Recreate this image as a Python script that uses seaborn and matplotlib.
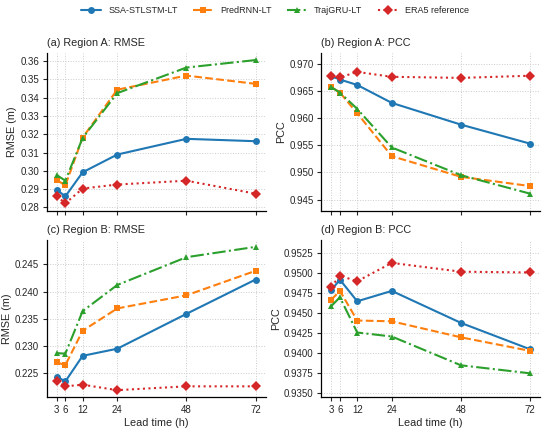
import numpy as np
import pandas as pd
import seaborn as sns
import matplotlib
matplotlib.use('Agg')
import matplotlib.pyplot as plt

# %% data
lead = [3, 6, 12, 24, 48, 72]
models = ['SSA-STLSTM-LT', 'PredRNN-LT', 'TrajGRU-LT', 'ERA5 reference']

rmse_a_ssa = [0.2897, 0.2860, 0.2992, 0.3089, 0.3175, 0.3162]
rmse_a_pred = [0.2950, 0.2920, 0.3182, 0.3444, 0.3521, 0.3476]
rmse_a_traj = [0.2977, 0.2946, 0.3180, 0.3425, 0.3565, 0.3606]
rmse_a_era5 = [0.2862, 0.2822, 0.2903, 0.2925, 0.2946, 0.2875]

pcc_a_ssa = [0.9677, 0.9671, 0.9661, 0.9628, 0.9588, 0.9553]
pcc_a_pred = [0.9657, 0.9647, 0.9609, 0.9530, 0.9492, 0.9475]
pcc_a_traj = [0.9657, 0.9647, 0.9617, 0.9546, 0.9495, 0.9461]
pcc_a_era5 = [0.9677, 0.9675, 0.9685, 0.9676, 0.9674, 0.9678]

rmse_b_ssa = [0.2244, 0.2235, 0.2282, 0.2295, 0.2359, 0.2422]
rmse_b_pred = [0.2270, 0.2265, 0.2328, 0.2369, 0.2393, 0.2438]
rmse_b_traj = [0.2287, 0.2286, 0.2364, 0.2412, 0.2463, 0.2482]
rmse_b_era5 = [0.2236, 0.2226, 0.2229, 0.2219, 0.2226, 0.2226]

pcc_b_ssa = [0.9479, 0.9492, 0.9465, 0.9478, 0.9438, 0.9405]
pcc_b_pred = [0.9467, 0.9478, 0.9441, 0.9440, 0.9420, 0.9403]
pcc_b_traj = [0.9459, 0.9470, 0.9426, 0.9421, 0.9385, 0.9375]
pcc_b_era5 = [0.9483, 0.9497, 0.9490, 0.9513, 0.9502, 0.9501]

# y tick values per panel
yt_a = [0.28, 0.29, 0.30, 0.31, 0.32, 0.33, 0.34, 0.35, 0.36]
yt_b = [0.945, 0.950, 0.955, 0.960, 0.965, 0.970]
yt_c = [0.225, 0.230, 0.235, 0.240, 0.245]
yt_d = [0.9350, 0.9375, 0.9400, 0.9425, 0.9450, 0.9475, 0.9500, 0.9525]

panels = [
    ('(a) Region A: RMSE', 'RMSE (m)', [rmse_a_ssa, rmse_a_pred, rmse_a_traj, rmse_a_era5], yt_a, '{:.2f}'),
    ('(b) Region A: PCC', 'PCC', [pcc_a_ssa, pcc_a_pred, pcc_a_traj, pcc_a_era5], yt_b, '{:.3f}'),
    ('(c) Region B: RMSE', 'RMSE (m)', [rmse_b_ssa, rmse_b_pred, rmse_b_traj, rmse_b_era5], yt_c, '{:.3f}'),
    ('(d) Region B: PCC', 'PCC', [pcc_b_ssa, pcc_b_pred, pcc_b_traj, pcc_b_era5], yt_d, '{:.4f}'),
]

colors = ['#1f77b4', '#ff7f0e', '#2ca02c', '#d62728']
markers = ['o', 's', '^', 'D']
styles = ['-', '--', '-.', ':']

# %% plotting
sns.set_style('ticks')
plt.rcParams['font.family'] = ['Liberation Sans', 'DejaVu Sans']

fig, axes = plt.subplots(2, 2, figsize=(5.5, 4.3), dpi=100, sharex=True)
fig.subplots_adjust(left=0.085, right=0.982, top=0.877, bottom=0.076,
                    wspace=0.255, hspace=0.185)

for ax, (title, ylab, series, yt, fmt) in zip(axes.flat, panels):
    for name, vals, c, m, ls in zip(models, series, colors, markers, styles):
        df = pd.DataFrame({'lead': lead, 'val': vals})
        sns.lineplot(data=df, x='lead', y='val', ax=ax, color=c, marker=m,
                     linestyle=ls, linewidth=1.5,
                     markersize=5.5 if m == 'D' else 5,
                     markeredgewidth=0, label=name, legend=False)
    ax.set_title(title, loc='left', fontsize=7.8, pad=5)
    ax.set_ylabel(ylab, fontsize=7.8, labelpad=2)
    ax.set_xlabel('')
    ax.set_xticks(lead)
    ax.set_yticks(yt, labels=[fmt.format(v) for v in yt])
    ax.grid(True, linestyle=':', color='#cccccc', linewidth=0.7)
    ax.tick_params(labelsize=7, length=3, width=0.8, pad=2.5)
    for s in ['left', 'bottom']:
        ax.spines[s].set_color('black')
        ax.spines[s].set_linewidth(0.9)
    sns.despine(ax=ax)

axes[0, 1].set_ylim(0.943, 0.972)
axes[1, 1].set_ylim(0.9345, 0.9542)

for ax in axes[1]:
    ax.set_xlabel('Lead time (h)', fontsize=7.8, labelpad=2)

handles, labels = axes[0, 0].get_legend_handles_labels()
fig.legend(handles, labels, loc='upper center', ncol=4, frameon=False,
           fontsize=6.5, bbox_to_anchor=(0.5, 1.005), handlelength=2.2,
           columnspacing=1.7)

fig.savefig('out.png', dpi=100)
